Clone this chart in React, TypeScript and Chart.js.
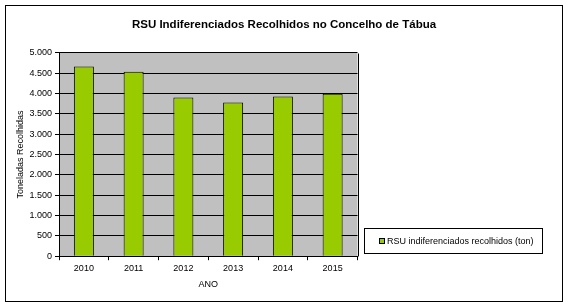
import React, { useEffect, useRef } from "react";
import { Chart, registerables } from "chart.js";

Chart.register(...registerables);

const years = ["2010", "2011", "2012", "2013", "2014", "2015"];
const tonnes = [4665, 4535, 3900, 3778, 3925, 3992];
const seriesLabel = "RSU indiferenciados recolhidos (ton)";
const chartTitle = "RSU Indiferenciados Recolhidos no Concelho de Tábua";
const yAxisTitle = "Toneladas Recolhidas";
const xAxisTitle = "ANO";

const FONT = "'Liberation Sans', Arial, sans-serif";

const fmt = (v: number) => String(v).replace(/\B(?=(\d{3})+(?!\d))/g, ".");

const decor = {
  id: "decor",
  afterLayout(chart: any) {
    const t = chart.titleBlock;
    if (t) {
      t.left = 0;
      t.right = chart.width;
      t.width = chart.width;
    }
  },
  beforeDraw(chart: any) {
    const { ctx, chartArea: a } = chart;
    ctx.save();
    ctx.fillStyle = "#ffffff";
    ctx.fillRect(0, 0, chart.width, chart.height);
    ctx.fillStyle = "#c0c0c0";
    ctx.fillRect(a.left, a.top, a.right - a.left, a.bottom - a.top);
    ctx.restore();
  },
  afterDraw(chart: any) {
    const { ctx, chartArea: a } = chart;
    ctx.save();
    ctx.strokeStyle = "#000";
    ctx.lineWidth = 1;
    // plot right edge
    ctx.beginPath();
    ctx.moveTo(Math.round(a.right) + 0.5, Math.round(a.top) + 0.5);
    ctx.lineTo(Math.round(a.right) + 0.5, Math.round(a.bottom) + 0.5);
    ctx.stroke();
    // outer frame
    ctx.strokeRect(5.5, 5.5, 557, 296);
    // legend box
    ctx.strokeRect(364.5, 228.5, 178, 25);
    const ds = chart.data.datasets[0];
    ctx.fillStyle = ds.backgroundColor;
    ctx.fillRect(379.5, 238.5, 5, 5);
    ctx.strokeRect(379.5, 238.5, 5, 5);
    ctx.fillStyle = "#000";
    ctx.font = `9px ${FONT}`;
    ctx.textBaseline = "middle";
    ctx.textAlign = "left";
    ctx.fillText(ds.label, 387, 241.5);
    ctx.restore();
  },
};

export default function App() {
  const ref = useRef<HTMLCanvasElement>(null);
  useEffect(() => {
    if (!ref.current) return;
    const chart = new Chart(ref.current, {
      type: "bar",
      data: {
        labels: years,
        datasets: [
          {
            label: seriesLabel,
            data: tonnes,
            backgroundColor: "#99cc00",
            borderColor: "#000000",
            borderWidth: 1,
            categoryPercentage: 1,
            barPercentage: 0.402,
          },
        ],
      },
      options: {
        animation: false,
        responsive: false,
        events: [],
        layout: { padding: { left: 0, right: 210.5, top: 0, bottom: 0 } },
        plugins: {
          legend: { display: false },
          tooltip: { enabled: false },
          title: {
            display: true,
            text: chartTitle,
            color: "#000",
            font: { family: FONT, size: 11.5, weight: "bold" },
            padding: { top: 18, bottom: 21 },
          },
        },
        scales: {
          x: {
            offset: true,
            grid: {
              offset: true,
              drawOnChartArea: false,
              drawTicks: true,
              tickLength: 4,
              color: "#000",
            },
            border: { display: true, color: "#000" },
            ticks: {
              color: "#000",
              font: { family: FONT, size: 9 },
              padding: 3,
              maxRotation: 0,
            },
            title: {
              display: true,
              text: xAxisTitle,
              color: "#000",
              font: { family: FONT, size: 9 },
              padding: { top: 0, bottom: 16.6 },
            },
            afterFit(scale: any) {
              scale.height = 50.8;
            },
          },
          y: {
            min: 0,
            max: 5000,
            grid: {
              color: "#000",
              drawTicks: true,
              tickLength: 4,
            },
            border: { display: true, color: "#000" },
            ticks: {
              stepSize: 500,
              color: "#000",
              font: { family: FONT, size: 9 },
              padding: 3,
              callback: (v: any) => fmt(Number(v)),
            },
            title: {
              display: true,
              text: yAxisTitle,
              color: "#000",
              font: { family: FONT, size: 9 },
              padding: { top: 15.6, bottom: 0 },
            },
            afterFit(scale: any) {
              scale.width = 59;
            },
          },
        },
      },
      plugins: [decor],
    });
    return () => chart.destroy();
  }, []);
  return (
    <div style={{ position: "absolute", left: 0, top: 0, width: 568, height: 307, background: "#fff" }}>
      <canvas ref={ref} width={568} height={307} style={{ display: "block" }} />
    </div>
  );
}
